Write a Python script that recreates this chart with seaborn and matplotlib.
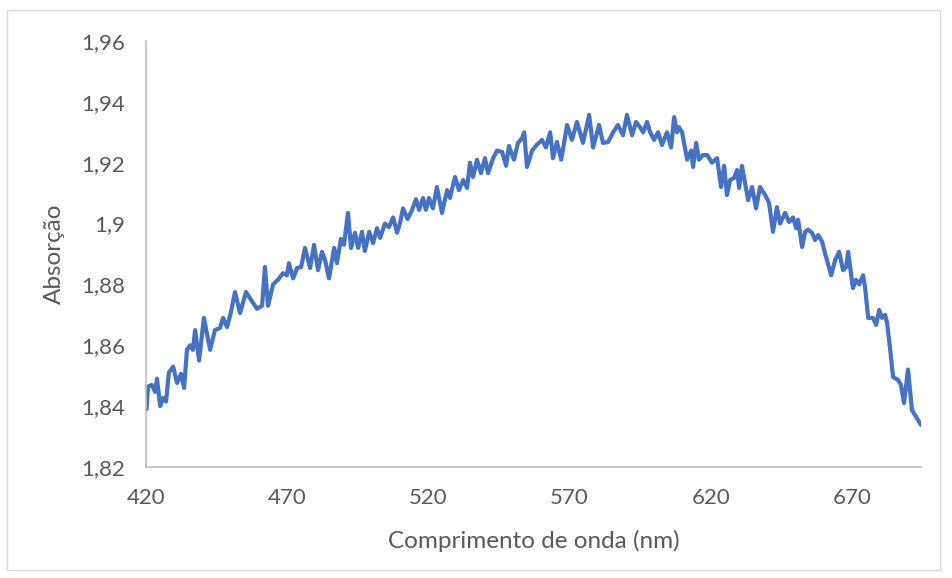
import numpy as np
import pandas as pd
import seaborn as sns
import matplotlib.pyplot as plt
from matplotlib.patches import Rectangle

# comprimento de onda (nm) e absorção
wavelength = [
    420.2, 420.7, 422.0, 423.2, 423.9, 425.0, 426.0, 427.1, 428.1, 429.6,
    431.0, 432.4, 433.5, 434.5, 435.6, 436.6, 437.4, 438.8, 440.5, 442.7,
    444.4, 446.2, 447.3, 448.7, 450.1, 451.5, 453.3, 455.4, 456.8, 459.3,
    461.1, 462.1, 463.2, 465.0, 466.7, 468.5, 469.9, 470.6, 472.1, 473.5,
    474.9, 476.3, 478.1, 479.5, 480.9, 482.3, 483.4, 484.8, 486.6, 487.6,
    489.0, 490.1, 491.5, 492.6, 494.0, 495.1, 496.5, 497.5, 499.0, 500.4,
    501.8, 502.9, 504.6, 506.0, 507.5, 508.9, 509.9, 511.0, 512.6, 514.2,
    515.6, 516.7, 518.1, 519.1, 520.2, 521.6, 523.0, 524.8, 526.6, 527.6,
    529.4, 530.8, 532.3, 533.7, 534.7, 535.8, 537.2, 538.6, 540.0, 541.1,
    542.9, 544.3, 546.1, 547.5, 548.5, 550.3, 551.7, 553.1, 553.9, 554.9,
    556.7, 558.5, 560.2, 561.6, 563.1, 564.1, 565.5, 567.0, 569.1, 570.8,
    572.6, 574.7, 576.9, 578.3, 580.4, 581.8, 583.6, 585.4, 587.1, 588.9,
    590.3, 592.1, 593.5, 594.9, 596.0, 597.4, 598.5, 599.9, 601.3, 602.7,
    604.5, 605.9, 607.0, 608.0, 608.7, 609.8, 611.6, 613.0, 613.7, 614.8,
    615.8, 617.2, 618.7, 620.4, 622.2, 623.6, 624.7, 625.7, 626.8, 628.2,
    629.3, 630.0, 631.0, 632.1, 633.2, 634.6, 636.0, 637.4, 639.2, 640.6,
    642.0, 643.4, 644.5, 646.3, 647.7, 649.1, 650.2, 650.9, 652.3, 653.4,
    654.4, 655.8, 656.9, 658.0, 659.4, 660.4, 661.1, 662.6, 664.0, 665.4,
    666.8, 667.9, 668.6, 670.3, 671.4, 672.5, 673.9, 674.6, 675.7, 677.4,
    678.5, 679.6, 680.6, 681.7, 682.4, 683.5, 684.5, 686.3, 687.3, 688.4,
    689.8, 691.2, 693.0, 694.4,
]
absorbance = [
    1.8390, 1.8464, 1.8470, 1.8447, 1.8490, 1.8400, 1.8427, 1.8415, 1.8510, 1.8530,
    1.8476, 1.8506, 1.8460, 1.8585, 1.8600, 1.8585, 1.8650, 1.8550, 1.8690, 1.8585,
    1.8650, 1.8657, 1.8690, 1.8660, 1.8710, 1.8775, 1.8706, 1.8775, 1.8755, 1.8720,
    1.8730, 1.8857, 1.8730, 1.8800, 1.8815, 1.8837, 1.8830, 1.8870, 1.8820, 1.8854,
    1.8857, 1.8920, 1.8854, 1.8930, 1.8847, 1.8907, 1.8880, 1.8820, 1.8920, 1.8870,
    1.8950, 1.8930, 1.9035, 1.8920, 1.8970, 1.8920, 1.8973, 1.8910, 1.8973, 1.8936,
    1.8985, 1.8953, 1.9000, 1.8988, 1.9020, 1.8970, 1.9000, 1.9050, 1.9015, 1.9045,
    1.9080, 1.9045, 1.9084, 1.9045, 1.9084, 1.9050, 1.9120, 1.9035, 1.9110, 1.9084,
    1.9153, 1.9110, 1.9143, 1.9117, 1.9200, 1.9153, 1.9210, 1.9166, 1.9215, 1.9166,
    1.9215, 1.9240, 1.9235, 1.9190, 1.9255, 1.9210, 1.9265, 1.9280, 1.9300, 1.9186,
    1.9240, 1.9260, 1.9275, 1.9250, 1.9300, 1.9215, 1.9268, 1.9210, 1.9324, 1.9275,
    1.9334, 1.9265, 1.9357, 1.9250, 1.9324, 1.9265, 1.9268, 1.9300, 1.9324, 1.9290,
    1.9357, 1.9290, 1.9334, 1.9317, 1.9300, 1.9334, 1.9300, 1.9275, 1.9300, 1.9258,
    1.9300, 1.9250, 1.9350, 1.9300, 1.9317, 1.9300, 1.9210, 1.9240, 1.9186, 1.9265,
    1.9210, 1.9225, 1.9225, 1.9200, 1.9215, 1.9120, 1.9190, 1.9094, 1.9143, 1.9150,
    1.9176, 1.9117, 1.9190, 1.9133, 1.9077, 1.9120, 1.9050, 1.9120, 1.9094, 1.9068,
    1.8973, 1.9054, 1.9000, 1.9035, 1.9005, 1.9020, 1.8985, 1.9012, 1.8923, 1.8973,
    1.8980, 1.8970, 1.8946, 1.8962, 1.8940, 1.8903, 1.8880, 1.8830, 1.8880, 1.8907,
    1.8847, 1.8857, 1.8907, 1.8788, 1.8815, 1.8800, 1.8830, 1.8790, 1.8690, 1.8690,
    1.8667, 1.8716, 1.8690, 1.8700, 1.8673, 1.8585, 1.8496, 1.8486, 1.8470, 1.8410,
    1.8520, 1.8387, 1.8360, 1.8338,
]
x_ticks = [420, 470, 520, 570, 620, 670]
y_ticks = [1.82, 1.84, 1.86, 1.88, 1.90, 1.92, 1.94, 1.96]

df = pd.DataFrame({'wl': wavelength, 'abs': absorbance})

sns.set_theme(style="white")
plt.rcParams['font.family'] = ['Lato', 'DejaVu Sans']

W, H = 953, 578
fig = plt.figure(figsize=(W / 100, H / 100), dpi=100)
fig.patches.append(Rectangle((7 / W, 8 / H), (940 - 7) / W, (568 - 8) / H,
                             transform=fig.transFigure, fill=False,
                             edgecolor='#d9d9d9', linewidth=1))

ax = fig.add_axes([146 / W, (H - 467) / H, (921 - 146) / W, (467 - 41) / H])
sns.lineplot(data=df, x='wl', y='abs', color='#4472C4', linewidth=3.0, ax=ax)

ax.set_xlim(420, 694.4)
ax.set_ylim(1.82, 1.96)
ax.set_xticks(x_ticks)
ax.set_xticklabels([str(t) for t in x_ticks])
ax.set_yticks(y_ticks)
ax.set_yticklabels([f'{t:g}'.replace('.', ',') for t in y_ticks])
ax.tick_params(length=0, labelsize=16, colors='#595959', pad=15)

for side in ['top', 'right']:
    ax.spines[side].set_visible(False)
for side in ['left', 'bottom']:
    ax.spines[side].set_color('#bfbfbf')
    ax.spines[side].set_linewidth(1.2)

ax.set_xlabel('Comprimento de onda (nm)', fontsize=17.5, color='#595959', labelpad=16)
ax.set_ylabel('Absorção', fontsize=17.5, color='#595959', labelpad=12)

plt.savefig('out.png', dpi=100)
